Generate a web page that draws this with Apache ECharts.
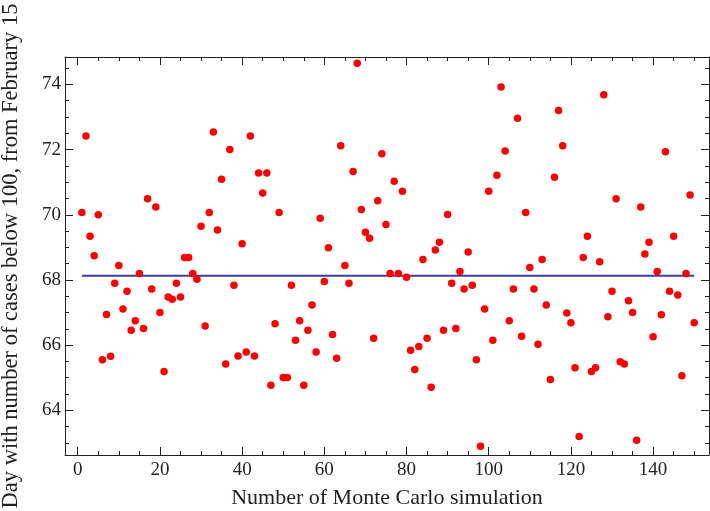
<!DOCTYPE html>
<html>
<head>
<meta charset="utf-8">
<script src="https://cdn.jsdelivr.net/npm/echarts@6/dist/echarts.min.js"></script>
<style>
  html, body { margin: 0; padding: 0; background: #fff; }
  #chart { width: 710px; height: 511px; }
</style>
</head>
<body>
<div id="chart"></div>
<script>
  // day (with <100 cases) for each Monte Carlo run, run number = position + 1
  var dayValues = [
    70.07, 72.42, 69.34, 68.74, 70.00, 65.55, 66.94, 65.66, 67.90, 68.44,
    67.11, 67.65, 66.46, 66.75, 68.20, 66.51, 70.49, 67.72, 70.24, 67.00,
    65.19, 67.48, 67.41, 67.90, 67.48, 68.69, 68.69, 68.20, 68.02, 69.65,
    66.59, 70.07, 72.54, 69.53, 71.09, 65.42, 72.00, 67.84, 65.67, 69.11,
    65.79, 72.42, 65.67, 71.28, 70.67, 71.28, 64.77, 66.66, 70.07, 65.01,
    65.01, 67.84, 66.15, 66.75, 64.77, 66.46, 67.23, 65.79, 69.89, 67.95,
    68.99, 66.33, 65.60, 72.12, 68.44, 67.90, 71.33, 74.65, 70.16, 69.46,
    69.28, 66.21, 70.43, 71.87, 69.70, 68.20, 71.03, 68.20, 70.72, 68.08,
    65.84, 65.25, 65.96, 68.63, 66.21, 64.71, 68.92, 69.16, 66.46, 70.01,
    67.90, 66.51, 68.26, 67.72, 68.86, 67.84, 65.55, 62.90, 67.11, 70.72,
    66.15, 71.21, 73.92, 71.96, 66.75, 67.72, 72.96, 66.27, 70.07, 68.38,
    67.72, 66.03, 68.63, 67.23, 64.95, 71.15, 73.20, 72.12, 66.99, 66.69,
    65.31, 63.20, 68.69, 69.34, 65.19, 65.31, 68.56, 73.68, 66.87, 67.65,
    70.49, 65.49, 65.42, 67.36, 67.00, 63.08, 70.24, 68.80, 69.16, 66.26,
    68.26, 66.93, 71.93, 67.65, 69.34, 67.54, 65.06, 68.20, 70.61, 66.69
  ]
  // horizontal reference line (mean)
  var meanDay = 68.13
  var meanRange = [1, 150]

  var xMajorTicks = [0, 20, 40, 60, 80, 100, 120, 140]
  var xMinorTicks = [5, 10, 15, 25, 30, 35, 45, 50, 55, 65, 70, 75, 85, 90, 95, 105, 110, 115, 125, 130, 135, 145, 150]
  var yMajorTicks = [64, 66, 68, 70, 72, 74]
  var yMinorTicks = [63, 63.5, 64.5, 65, 65.5, 66.5, 67, 67.5, 68.5, 69, 69.5, 70.5, 71, 71.5, 72.5, 73, 73.5, 74.5]

  var xMin = -3.1, xMax = 153.6
  var yMin = 62.63, yMax = 74.84

  var fontFam = '"Liberation Serif", "DejaVu Serif", serif'
  var frameColor = '#222'

  // 数据处理: [run, day]
  function toPoints (vals) {
    var res = []
    for (var i = 0; i < vals.length; i++) {
      res.push([i + 1, vals[i]])
    }
    return res
  }

  // one axis (major or minor ticks) of the frame
  function makeX (pos, ticks, len, withLine, withLabel) {
    return {
      type: 'value', position: pos, min: xMin, max: xMax,
      axisLine: { show: withLine, onZero: false, lineStyle: { color: frameColor, width: 1 } },
      axisTick: { show: true, inside: true, length: len, customValues: ticks,
        lineStyle: { color: frameColor, width: 1 } },
      axisLabel: { show: withLabel, customValues: ticks, margin: 6,
        fontFamily: fontFam, fontSize: 19, color: '#222' },
      splitLine: { show: false }
    }
  }
  function makeY (pos, ticks, len, withLine, withLabel) {
    return {
      type: 'value', position: pos, min: yMin, max: yMax,
      axisLine: { show: withLine, onZero: false, lineStyle: { color: frameColor, width: 1 } },
      axisTick: { show: true, inside: true, length: len, customValues: ticks,
        lineStyle: { color: frameColor, width: 1 } },
      axisLabel: { show: withLabel, customValues: ticks, margin: 4,
        fontFamily: fontFam, fontSize: 19, color: '#222' },
      splitLine: { show: false }
    }
  }

  var chart = echarts.init(document.getElementById('chart'))

  var xBottom = makeX('bottom', xMajorTicks, 8, true, true)
  xBottom.name = 'Number of Monte Carlo simulation'
  xBottom.nameLocation = 'middle'
  xBottom.nameGap = 32
  xBottom.nameTextStyle = { fontFamily: fontFam, fontSize: 22, color: '#222' }

  var yLeft = makeY('left', yMajorTicks, 8, true, true)
  yLeft.name = 'Day with number of cases below 100, from February 15'
  yLeft.nameLocation = 'middle'
  yLeft.nameRotate = 90
  yLeft.nameGap = 42
  yLeft.nameTextStyle = { fontFamily: fontFam, fontSize: 22.5, color: '#222' }

  chart.setOption({
    animation: false,
    backgroundColor: '#fff',
    grid: { left: 65, top: 57, right: 1, bottom: 56, containLabel: false, outerBoundsMode: 'none' },
    xAxis: [
      xBottom,
      makeX('bottom', xMinorTicks, 4, false, false),
      makeX('top', xMajorTicks, 8, true, false),
      makeX('top', xMinorTicks, 4, false, false)
    ],
    yAxis: [
      yLeft,
      makeY('left', yMinorTicks, 4, false, false),
      makeY('right', yMajorTicks, 8, true, false),
      makeY('right', yMinorTicks, 4, false, false)
    ],
    series: [
      {
        name: 'mean',
        type: 'line',
        data: [[meanRange[0], meanDay], [meanRange[1], meanDay]],
        showSymbol: false,
        lineStyle: { color: '#3e3e9e', width: 2 },
        z: 2
      },
      {
        name: 'runs',
        type: 'scatter',
        data: toPoints(dayValues),
        symbolSize: 7.5,
        itemStyle: { color: '#ff0000', opacity: 1 },
        z: 3
      }
    ]
  })
</script>
</body>
</html>
